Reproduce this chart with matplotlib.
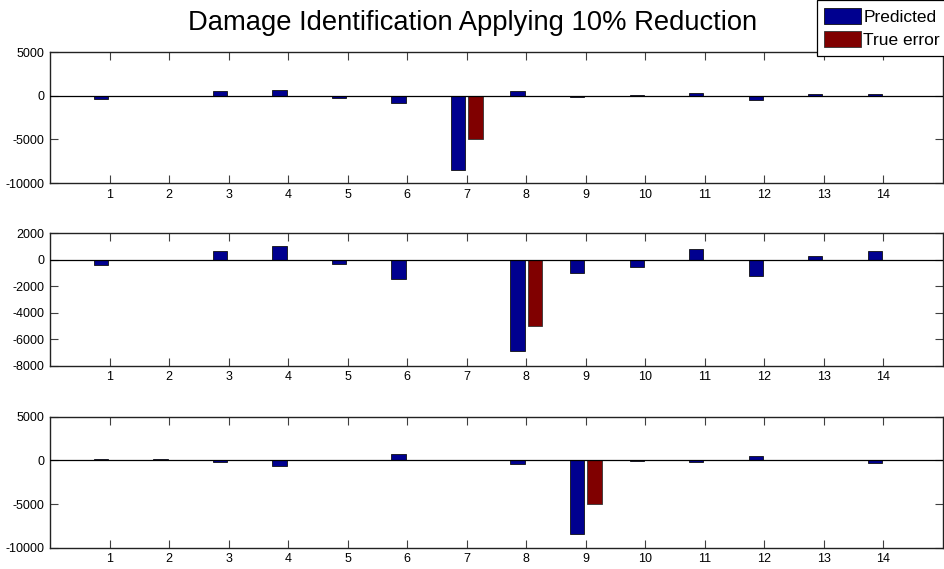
import matplotlib
matplotlib.use("Agg")
import matplotlib.pyplot as plt
import numpy as np

plt.rcParams['font.family'] = ['Liberation Sans', 'DejaVu Sans']
plt.rcParams['axes.unicode_minus'] = False

elements = list(range(1, 15))

# case 1: damage at element 7
pred_1 = [-350, 20, 550, 700, -250, -850, -8500, 500, -100, 80, 300, -450, 150, 250]
true_1 = [0, 0, 0, 0, 0, 0, -5000, 0, 0, 0, 0, 0, 0, 0]

# case 2: damage at element 8
pred_2 = [-400, 0, 700, 1050, -300, -1450, 0, -6850, -1000, -580, 780, -1250, 280, 650]
true_2 = [0, 0, 0, 0, 0, 0, 0, -5000, 0, 0, 0, 0, 0, 0]

# case 3: damage at element 9
pred_3 = [200, 200, -200, -600, 80, 700, 80, -400, -8400, -100, -150, 500, 40, -300]
true_3 = [0, 0, 0, 0, 0, 0, 0, 0, -5000, 0, 0, 0, 0, 0]

ylims = [(-10000, 5000), (-8000, 2000), (-10000, 5000)]
yticks = [[-10000, -5000, 0, 5000],
          [-8000, -6000, -4000, -2000, 0, 2000],
          [-10000, -5000, 0, 5000]]

blue = '#00008F'
red = '#800000'

fig = plt.figure(figsize=(9.45, 5.69), dpi=100)

# axes boxes [left, bottom, width, height]
boxes = [[0.0529, 0.678, 0.945, 0.2306],
         [0.0529, 0.357, 0.945, 0.233],
         [0.0529, 0.0374, 0.945, 0.2303]]

cases = [(pred_1, true_1), (pred_2, true_2), (pred_3, true_3)]
x = np.array(elements)
w = 0.24
off = 0.145

for i, (pred, true) in enumerate(cases):
    ax = fig.add_axes(boxes[i])
    b1 = ax.bar(x - off, pred, width=w, color=blue, edgecolor='#111111', linewidth=0.6,
                label='Predicted')
    b2 = ax.bar(x + off, true, width=w, color=red, edgecolor='#333333', linewidth=0.6,
                label='True error')
    ax.axhline(0, color='k', lw=0.9, zorder=3)
    ax.set_xlim(0, 15)
    ax.set_ylim(*ylims[i])
    ax.set_xticks(elements)
    ax.set_yticks(yticks[i])
    ax.tick_params(direction='in', top=True, right=True, labelsize=9, length=6,
                   color='#404040', width=0.8, pad=4)
    for s in ax.spines.values():
        s.set_linewidth(1.0)
        s.set_color('#222222')
    if i == 0:
        handles = [b1, b2]

fig.suptitle('Damage Identification Applying 10% Reduction', fontsize=19.7, x=0.5, y=0.982)

leg = fig.legend(handles, ['Predicted', 'True error'], loc='upper right',
                 bbox_to_anchor=(1.003, 1.0), fontsize=12.5, frameon=True,
                 fancybox=False, edgecolor='k', framealpha=1, borderaxespad=0,
                 handlelength=2.1, handleheight=1.05, handletextpad=0.15,
                 labelspacing=0.35, borderpad=0.45)
leg.get_frame().set_linewidth(0.9)

fig.savefig('out.png', dpi=100)
